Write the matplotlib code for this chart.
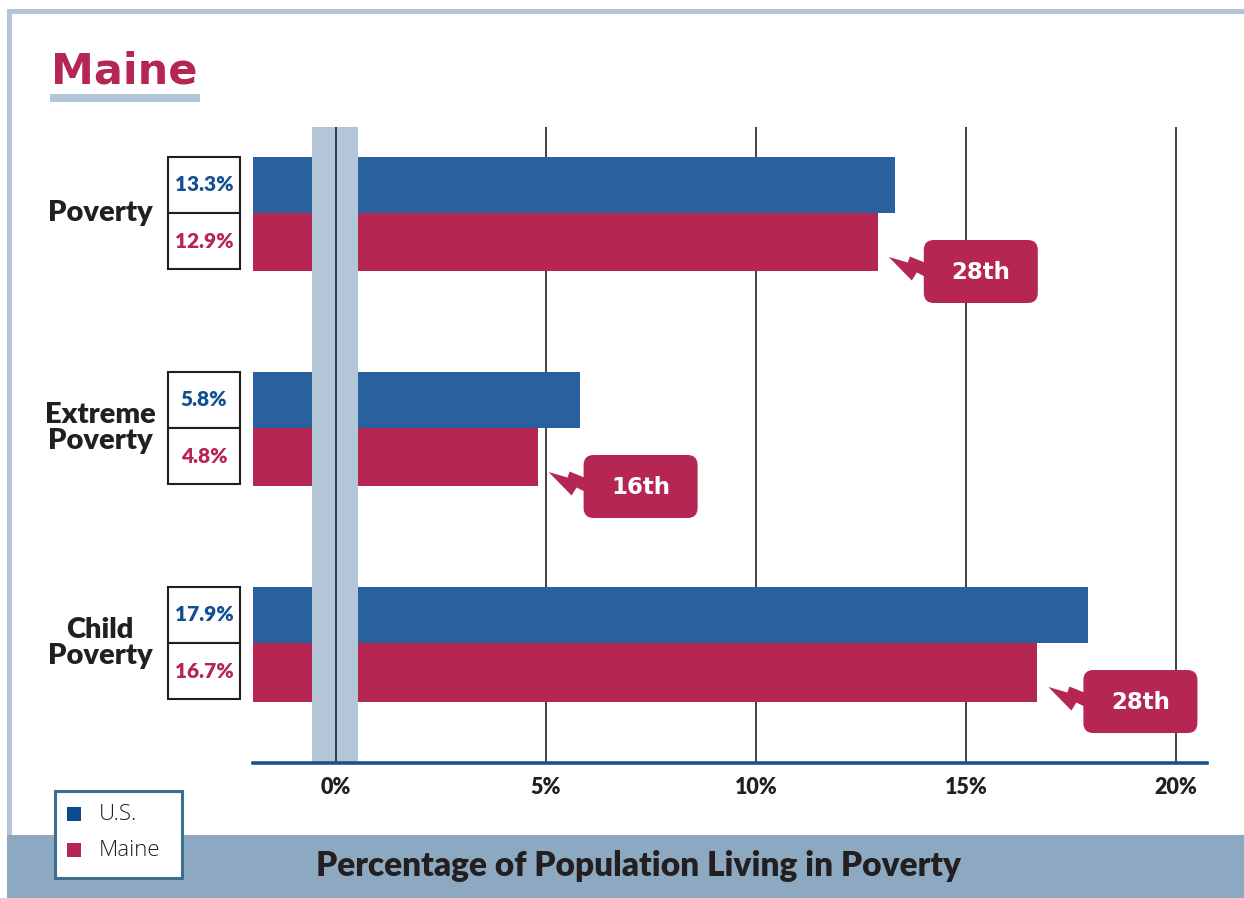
import matplotlib
matplotlib.use("Agg")
import matplotlib.pyplot as plt
from matplotlib.patches import Rectangle, FancyBboxPatch, Polygon

# ---------------- data ----------------
categories = ["Poverty", "Extreme\nPoverty", "Child\nPoverty"]
us_values = [13.3, 5.8, 17.9]
maine_values = [12.9, 4.8, 16.7]
maine_ranks = ["28th", "16th", "28th"]
x_ticks = [0, 5, 10, 15, 20]
x_tick_labels = ["0%", "5%", "10%", "15%", "20%"]
series_names = ["U.S.", "Maine"]
state_name = "Maine"
axis_title = "Percentage of Population Living in Poverty"

# ---------------- style ----------------
BLUE = "#29609e"
BLUE_TXT = "#124f90"
RED = "#b52653"
BAND = "#b3c6d8"
BOTTOM = "#8ca9c1"
AXIS_BLUE = "#1c4f8e"
DARK = "#231f20"
LEG_EDGE = "#3d6d90"
LABEL_FONT = ["Lato", "DejaVu Sans"]
LABEL_W = "heavy"

W, H = 1244, 898
fig = plt.figure(figsize=(W / 100, H / 100), dpi=100)

# background decoration axes in pixel coords
deco = fig.add_axes([0, 0, 1, 1], zorder=0)
deco.set_xlim(0, W)
deco.set_ylim(H, 0)
deco.axis("off")

# frame
deco.add_patch(Rectangle((7, 9), W - 7, 5, color=BAND, lw=0))
deco.add_patch(Rectangle((7, 9), 5, 835 - 9, color=BAND, lw=0))
# bottom band
deco.add_patch(Rectangle((7, 835), W - 7, H - 835, color=BOTTOM, lw=0))
deco.text(638, 866, axis_title, ha="center", va="center", fontsize=24,
          fontweight=LABEL_W, color=DARK, family=LABEL_FONT)
# title
deco.text(51, 84, state_name, ha="left", va="baseline", fontsize=31,
          fontweight="bold", color=RED, family="DejaVu Sans")
deco.add_patch(Rectangle((50, 94), 150, 8, color=BAND, lw=0))
# legend
deco.add_patch(Rectangle((55, 791), 127, 87, facecolor="white", edgecolor=LEG_EDGE, lw=2.2, zorder=3))
leg_colors = ["#0d4a8f", RED]
for i, (nm, c) in enumerate(zip(series_names, leg_colors)):
    yc = 814 + i * 36
    deco.add_patch(Rectangle((67, yc - 7), 14, 14, color=c, lw=0, zorder=4))
    deco.text(99, yc, nm, ha="left", va="center", fontsize=16, color=DARK,
              fontweight="light", family=["Open Sans", "DejaVu Sans"], zorder=4)

# ---------------- main axes ----------------
X_MIN, X_MAX = -1.976, 20.738
Y_TOP, Y_BOT = -0.40, 2.558
BAR_H = 0.262

left = 253 / W
right = 1207 / W
bottom = 1 - 763 / H
top = 1 - 127 / H
ax = fig.add_axes([left, bottom, right - left, top - bottom], zorder=1)
ax.patch.set_alpha(0)
ax.set_xlim(X_MIN, X_MAX)
ax.set_ylim(Y_BOT, Y_TOP)

ys = list(range(len(categories)))
ax.barh([y - BAR_H / 2 for y in ys], [v - X_MIN for v in us_values], left=X_MIN,
        height=BAR_H, color=BLUE, zorder=2)
ax.barh([y + BAR_H / 2 + 0.005 for y in ys], [v - X_MIN for v in maine_values], left=X_MIN,
        height=BAR_H + 0.01, color=RED, zorder=2)

for t in x_ticks[1:]:
    ax.axvline(t, color=DARK, lw=1.2, zorder=1)
ax.axvspan(-0.57, 0.52, color=BAND, lw=0, zorder=3)
ax.axvline(0, color=DARK, lw=1.2, zorder=4)

for s in ["top", "left", "right"]:
    ax.spines[s].set_visible(False)
ax.spines["bottom"].set_color(AXIS_BLUE)
ax.spines["bottom"].set_linewidth(2.6)
ax.spines["bottom"].set_zorder(5)
ax.set_yticks([])
ax.set_xticks(x_ticks)
ax.set_xticklabels(x_tick_labels, fontsize=15.5, fontweight=LABEL_W, color=DARK, family=LABEL_FONT)
ax.tick_params(axis="x", length=0, pad=10)

# value boxes + category labels
BOX_L, BOX_R = -4.0, -2.286
for y, cat, uv, mv in zip(ys, categories, us_values, maine_values):
    for k, (v, c) in enumerate([(uv, BLUE_TXT), (mv, RED)]):
        y0 = y - BAR_H if k == 0 else y
        ax.add_patch(Rectangle((BOX_L, y0), BOX_R - BOX_L, BAR_H, facecolor="white",
                               edgecolor=DARK, lw=1.5, clip_on=False, zorder=3))
        ax.text((BOX_L + BOX_R) / 2, y0 + BAR_H / 2, f"{v:.1f}%", ha="center", va="center",
                fontsize=15, fontweight=LABEL_W, color=c, family=LABEL_FONT, clip_on=False)
    ax.text(-5.62, y, cat, ha="center", va="center", fontsize=21, fontweight=LABEL_W,
            color=DARK, family=LABEL_FONT, linespacing=1.0, clip_on=False)

# ---------------- callouts (overlay, pixel coords) ----------------
over = fig.add_axes([0, 0, 1, 1], zorder=5)
over.set_xlim(0, W)
over.set_ylim(H, 0)
over.axis("off")
over.patch.set_alpha(0)

fig.canvas.draw()
inv = over.transData.inverted()
for y, mv, rank in zip(ys, maine_values, maine_ranks):
    disp = ax.transData.transform((mv, y))
    px, py = inv.transform(disp)
    bx = px + 46
    by = py + 27
    bw, bh = 114, 63
    over.add_patch(FancyBboxPatch((bx + 10, by + 10), bw - 20, bh - 20,
                                  boxstyle="round,pad=10", color=RED, lw=0))
    bolt = [(bx + 2, by + 23), (bx - 14, by + 16.5), (bx - 16, by + 22.5),
            (bx - 35, by + 17), (bx - 12, by + 40.5), (bx - 7, by + 32.5),
            (bx + 2, by + 37)]
    over.add_patch(Polygon(bolt, closed=True, color=RED, lw=0))
    over.text(bx + bw / 2, by + bh / 2 + 1, rank, ha="center", va="center",
              fontsize=16.5, fontweight="bold", color="white", family="DejaVu Sans")

fig.savefig("out.png", dpi=100)
